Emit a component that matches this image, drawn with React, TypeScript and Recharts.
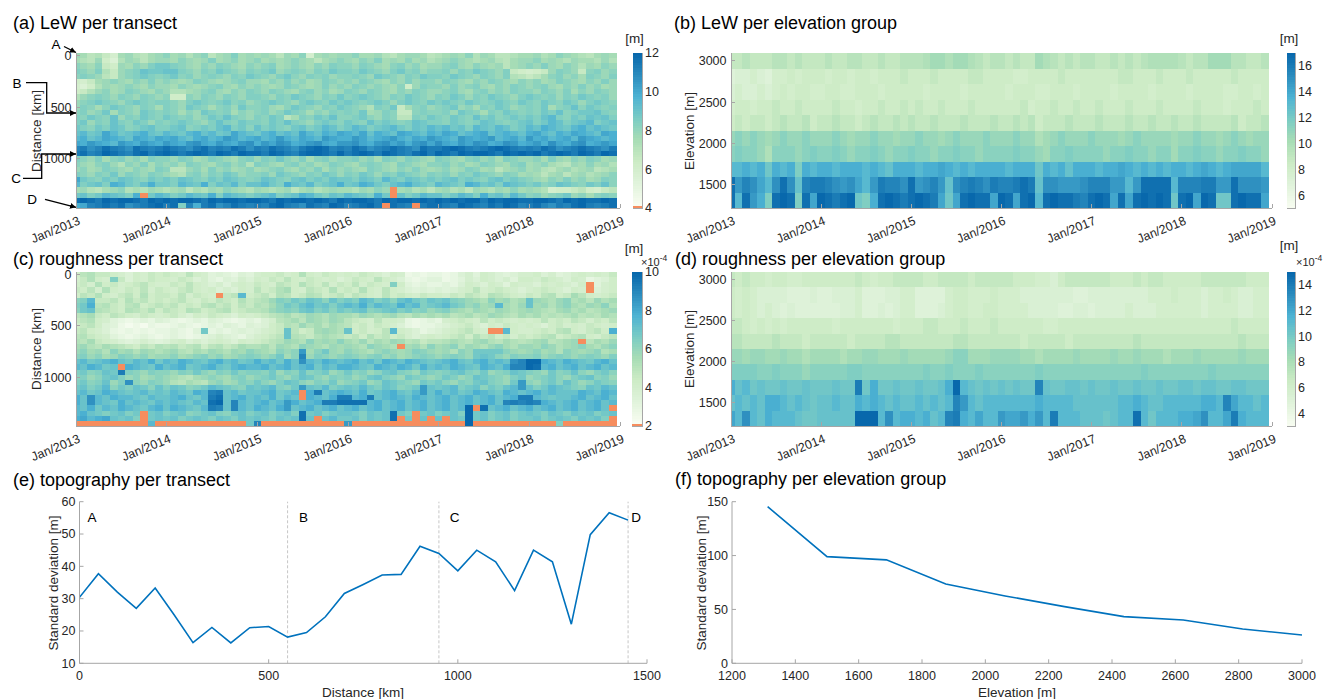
import React from 'react';
import {
  BarChart,
  Bar,
  Cell,
  XAxis,
  YAxis,
  LineChart,
  Line,
  ReferenceLine,
  ReferenceArea,
} from 'recharts';

const FONT = '"Liberation Sans", Arial, Helvetica, sans-serif';
const INK = '#262626';
const FRAME = '#a6a6a6';
const TICK_PX = 12.5;
const LINE_BLUE = '#0072bd';

// ---------------------------------------------------------------------------
// Axes and categories
// ---------------------------------------------------------------------------

// Month index 0 = Jan 2013; every heatmap cell is centred on its month.
const MONTH_INDEX = Array.from({ length: 72 }, (_, i) => i);
const MONTH_TICKS = [0, 12, 24, 36, 48, 60, 72];
const MONTH_TICK_LABELS = ['Jan/2013', 'Jan/2014', 'Jan/2015', 'Jan/2016', 'Jan/2017', 'Jan/2018', 'Jan/2019'];

const TRANSECT_KM = [
  0, 50, 100, 150, 200, 250, 300, 350, 400, 450, 500, 550, 600, 650, 700,
  750, 800, 850, 900, 950, 1000, 1050, 1100, 1150, 1200, 1250, 1300, 1350, 1400, 1450,
];
const ELEVATION_M = [1312.5, 1500, 1687.5, 1875, 2062.5, 2250, 2437.5, 2625, 2812.5, 3000];

const DISTANCE_TICKS = [0, 500, 1000];
const ELEVATION_TICKS = [1500, 2000, 2500, 3000];

// Colour ranges of the four heatmaps (roughness in units of 1e-4 m)
const LEW_TRANSECT_RANGE: [number, number] = [4, 12];
const LEW_ELEVATION_RANGE: [number, number] = [5, 17];
const ROUGH_TRANSECT_RANGE: [number, number] = [2, 10];
const ROUGH_ELEVATION_RANGE: [number, number] = [3, 15];

const LEW_TRANSECT_TICKS = [4, 6, 8, 10, 12];
const LEW_ELEVATION_TICKS = [6, 8, 10, 12, 14, 16];
const ROUGH_TRANSECT_TICKS = [2, 4, 6, 8, 10];
const ROUGH_ELEVATION_TICKS = [4, 6, 8, 10, 12, 14];

// ---------------------------------------------------------------------------
// Monthly values. One string per row, one letter per month (Jan 2013 .. Dec 2018,
// grouped by year). 'a'..'z' run linearly from the low to the high end of the
// panel's colour range; '#' marks a month with no value (drawn in the under-range colour).
// ---------------------------------------------------------------------------

// LeW per transect, rows 0 km .. 1450 km
const LEW_TRANSECT_CODES = [
  'mljkiglmkjlm nlmkmnjlmolm lmljmlnglmlm mnllmkjlmmlj klmlnkmljjkl lmklnmlkjlml',
  'lkjmhfkmljlm mlnmlmolmnlm nlmlmnmljlmn mlnmolmlnlmk lmnmlklmkjlm mnlmlkmllkmk',
  'nmlnihmlnmop ponmlnmonmln mnolmnmlnmon nmonmlnomnlm mnomlnmlmjlm nmomlnmkmlnm',
  'onmokimnoqpp qqonmonponmo nopmnonmonpo onponmopnomn nomonponmoih ghimonminomn',
  'nonmjimnopon opnomnonmonp onmopnmonomn nonmponmonpo onponmonmokj ijlnomnlonmo',
  'hgilmnmlnmom nmlmonmlmnom mlnmomnlmonm nmonmlnmomnn monmlnmonmln mnlmonmlnmom',
  'gfhkmlmnmlnm mlnmlmnomlnm nmlmonmlmomn monmnmlnhmon nmomnomlnmon mnomlnmomnlm',
  'hikmnlmonmln mkklmnomlnmo nmonmlnomnlm onmonmlnmonm mnomlnomnmon nmonmolnmonm',
  'kmnonmonmonm nhhnmonmonmo onmonponmonp noponmonponm onpomonponmo ponomonponom',
  'mnoponmopono onmoponopnom noponmoponpo ponopomoponp oponponoponp onponpomopon',
  'monlnponmonl onmponlnompn nomlnponmonp onmkonpilnom nopmnlonpomn onplnoqnpono',
  'nomnplonmpon onlnmponolnm nomnponlnmon onplmoniinon nomponlonpon onpoqnoppqon',
  'onponqmonpon ponomnpoqonm onpojlonpoqn nopnmonjjonp onponqopnopo poqronpoqpqo',
  'opmonqonpomo noponmoqonpo onpoqonmopon ponqoponoqpo onponoqponop qoprqopqropq',
  'ponpoqpnopqo opqnopoqropn qoponpqoprqo prqopqrpoqpr qrpqorqprqop rqsrqprsqrqp',
  'qrpqtrpqrsqp rqprsqrpqtrq prsqrqtrqsrt srtqsrqtsrqs rtsqrstqrsrq strqsrtsrqts',
  'rsqrtsrqtsrt strqstrsutrs trsusrtsruts sutrstusrtsu tsrutsturstr ustrstrutsrs',
  'tsutsrutsuts utsuvtsutsuv sutvustuvtsu uvtsuvtusuvt vtsutvustvus tusvtsuvstut',
  'wxvwyxwvyxwx yxwvxywxwyxv xwyxwvxyzywx wyxvwxyxwvyx xyzyxwxyzyxw xwyxvwxyxwvx',
  'xywxzyxwyzxy zyxyzyxzyxzy yxzyxwyzzyxz xyzyxzyxwyzx zyxzyzzyxzyz yzxyzyxzyxzy',
  'onmolnomnlon nmonlmonmlno monpnmolnomn nomnlonmonml onmlnomnlonm mnlomlnmonlm',
  'nmlnomknmoln mnlonmlnomnk onmlnomnlmon mlnonmlonmln nomnlmonmlno lmnlkjmlnlmk',
  'mnlmonmlnmlo njjmnlomnlmn lmnomlnmolnm nmlonmlnmoml mnlmonlmjlmn lmkjlmklmjkl',
  'onmonpmonmon mlknomonpomn nomponmonpom onpomonponmo nomonponmonl mljlmjlmklmn',
  'tponpoqponpo poqponpoqpon oqponpqopoqp poqporpoqpop opqoponpqopo nmlnmomnlmon',
  'ropqosrpoqsp porqpsoqproq qrposqpropqs pqsrpoqrsqpo rqposrpqorqp opnoqponpoqn',
  'lmkjlmnklkml klmjlkmlnmlk mlklmjlmklml lkmlnm#lmklj lmkljmlkmlnl mlkghhijhgij',
  'pqoprqpos#pr qoprqpsorqpo pqropqsrpoqp rqposp#qoprq qoprqospqorp nomnopmnlnon',
  'yzyxzyzzyxzy zyzzyxzyzzyz zyxzyzzyzyxz yzzyxzyzzyzy zyzyzzxzyzzy yzzyxzyzyyzy',
  'stwxyxyvwxyz xyowsxyvwyxw xwyzxwvyxwzy wxyzx#yxw#xy yxwzyxwyxzyw xywvxwyzxwxy',
];

// LeW per elevation group, rows 1312.5 m (bottom) .. 3000 m (top)
const LEW_ELEVATION_CODES = [
  'yryusoyzyoyt zyxyzposyzyx yzyxtptyzyyt zytyzryzyyxw yzytytyzyzyp yztzyppyzyyt',
  'yuwvtrvyvqwx xwvuvtruxwwv yuvwuqvwxwvx wwxyxqvvuuuv wwwuuruyyyyr wwwxxuuyvvvu',
  'rrsrspsrsosr ssrsssrsrqss srsstsrsrsss srssspsrsqss srsstsrsrsrs srstsrsttttr',
  'nonnmknnnmno nnonmnnonmnn onnmnnonnmnn nnonnmlnnonn nnmnnonnmnnl nnonnmnnonnm',
  'mnmnmlmnmmnm mmnmlmmnmmlm mnmmlmnmmmnm mmnmmklmnmmm nmmmlmnmmmml mmnmmlmnmlmm',
  'hihiihijiijh iijiihijiiji jiijiiijiiij iijijhiiijii ijiiijiijiij iijiiiijhiij',
  'ghhghhihhihh hhihhghhihhi hihhihhhihhh hhhighhihhih hihhhihhhihh hhihhhghhhih',
  'fgffgfghghhg ghhgghhhghhh hhghhhhghhhh hghhhgghhhgh hhhghhhhghhh hghhhhgghhgh',
  'effgfegghghh hghhghhghhhi hhhihhhhiihh hhgghhhhihhh hhhhiihhhihh hihhhhhihhhh',
  'iijiiijjijii ijiijjiijiij jjkllkllkjij jijiilkjijij jiijijijkkkk jijjllljjiij',
];

// Roughness per transect (1e-4 m), rows 0 km .. 1450 km
const ROUGH_TRANSECT_CODES = [
  'hjkiihgfhgih ihgjhgefedfe ghhighkhgihg hgihgfhgcdcd dcdfgehgfefg ghfgefghghgi',
  'gikhgoifhgih hgihfgedfegf hgihjhgihghf gihgjhgfdcde ecdegfhgfgeh hgihgfhgdefh',
  'higkhighijhg gihjhgfgeghg ihgjihkihjgi hjgihgoheded dedfhgfhgehg gfhghgfh#egh',
  'ihjgkhgihjgi hgijhghfgfhg jhiklhgjihkh ihkhgjhgfefe fefghjghihgf ghihgfhg#fgh',
  'hjikhgijhkhi ihjgihg#ijrh ijhkjhikjhij hjihgjhihgih hgihjihkjihg ihjkhiljhghi',
  'noriijhkijhi hijhgihjihki jkmonpoqpnqo porqopnqrpoq pqonmlknlmkl qmlkmnkljmkl',
  'opsjkihjkhij ijhihjkijhji kjlnpoqrpqoq rqsprqpsqrop qrpomnlmrlkm qlmkmnlkmlnk',
  'npqkjihkjikh jihkjhijkhij jkmnonpqopnp opqnopqopnom nomlkmlkmlkl mlkjlmkljklm',
  'jklihjihgihg higfhgihgfhg hijkljkmlkml lkmlklmkjlkl kljkljkmlkjl kljkjkljkjlk',
  'ijkhgedcdedf edcdedfedcde dfgjkljmlkml jihgjhhgdcde dghihgjhihgh ghjhihjigihj',
  'hijhfecbcbdc cdedcdedfedf efhikjmkljlk jhigihgfdcdd efghigfhgihg hgfhighgihgh',
  'ijhgfdcdcdcd dedcepdedefe fghiqjhilmlk qhighjrhgfde fghijhg##rhg ghihjkhgijhs',
  'jkihgedcdedc dedcdefgfedf ghijqkjiklkj ijhkijhigfgh ghijhkijhigi hijkhijkhgij',
  'kjlihgfefgfe fghfgfghgfhg hijkmlknlmln lkmjlkmljkij jklkjlmkjlkj klmjklm#jlkm',
  'lmkjlkjihjik jkijkhjkijlk kljmlknmlkml mlknmlk#lmkn lmnkmlkmnlkm mlnmklmnlkmn',
  'mnlmknlmkmlk lmkjlkmlkmln mlknmnulnpml nmlkmnmlmonm lmknmppppnml mnlmknmlmnkl',
  'nomnlmonmnlm mnlmnomnlmno nmnplnwmonmn onmnomnlmnon mnonmpqpnmon nomnonmnonmo',
  'qrpqrsqprqsp rqsrqprsqrpq sqrpsqvrqsrq rsqrpsrqsrqp qrsqprsqrqvw zzsrqsrqprsq',
  'rqsrpq#srqps qrspqrsqprsr rsqrsqrsprqs srqpsrqsrpsq rqsrqpsrqsww zyrsqrsqrsqr',
  'opnoqpxonmon nmonpnmonpno onpmonqnopmn pnomnpqonmpo nopqonpmnoqp onmpnoqnmopn',
  'nomnpqomnlmn mlkjlmnmlnom nopnmoqpnmon omnpqonmponm npomnqponmop mnopnmopqnom',
  'opnoqmovnmon mkjlkjmnlmon pnmoqpnmonpm nopmnqponmpo pnmonpqonmpu nmopnqomnpon',
  'pqoprnpoqpnq oqpnoprqponq pqronpuqprop qprpoqpnopuq pqropqnpoqru qoprqponqprq',
  'qrpqsrqpqrpq prqpsrwxqrpq qrspqr#sxqrs rqspqrsqpruq sqrpqsrqpsrq rsqrqqqsrqsr',
  'sqvrqsrrqprq qrsqprxyqrsq rqsprq#srqsx xrsxqrsrqsrq rsqrsqrsqrsx xrqpqqrsqrsq',
  'sqvrqpsqrqpr qrqprqyzqwrq rsqrusqrsxxy yyyrsqrsqrsq rsqrsqrsqwxw xwsrqrsqrsqr',
  'rqsprqsrqprs qsrqprxwqwrq srqsuqrsqrsq rsqrsqrsqrsq rsqrz#yqrsqr sqrsqrsqrsq#',
  'rsqpopqop#pq opqnopqonpqo pqopqoypqopq qpoqpqypo#pq opqozpqopqop qpoqpoqpqopq',
  'strstqpqo#pq pqopqpoqpoqp qpoqpqyq#qrp pqoqpqy#p#q# q#qpzpqopqop pqopqpoqpqo#',
  '##########r# ###########p w########### u########### ####z####### ####o#######',
];

// Roughness per elevation group (1e-4 m), rows 1312.5 m (bottom) .. 3000 m (top)
const ROUGH_ELEVATION_CODES = [
  'trvrqsrrrqpp qqqqqzzzrvrs srsqrwxsrtrr uttusurxrrrq qqpqrryrprrr sstvrrtxsrrr',
  'qrqrqssrqrqp qqrqqsrsrqrq qrqrqrwurqrr rrrrrsrrrrqq qqqqrrsrqqrr rrrssrwtrrqr',
  'sqrpqppqppqp ppqppxpsppqp pqppqszrqpqp qpqppwqppqqp qppqppqppqpp qqpqqppqqppp',
  'oooonnonnnmn nnnnoonnnnnn nnonnonnnonn nnnnnonnnnnn nnnnnnnonnnn nnnnonnnnnnn',
  'mmlmmllmllkl lllkllmmlllm lllllmnnlllm mmmllkllllml lllmllmlllkl llmlllllmlll',
  'jjiiiijiiihi iiiihiiiijji iiiiiijjiiii iiihiiiiihii iiiiiijiiiii iiiiiiiijiii',
  'iihghghghhhh hhghhhhhhhgh hhiihhhihhhi hhhhhhgghhhh hhhhhhhhhhhh hhhhhhhihhhh',
  'hghgfgfefeee eeeffgeefefg geeefghhgghh ggggffffeeff effffgfffggg gggfggggffgg',
  'hghgffffeeef eefffgeeeffg geeeeghhgggh gggfffffffee ffffffffgggh gggfgghgffgg',
  'ihihhghhgghh hhhhhihghhii iihhiiiihiii iihhhggfhiii iiihhhihiihh hhhiiiiiihhh',
];

// Standard deviation of topography
const TOPO_SD_TRANSECT = [
  30.4, 37.7, 32.0, 27.0, 33.3, 25.0, 16.4, 21.1, 16.3, 21.0, 21.4, 18.1, 19.5, 24.4, 31.6,
  34.4, 37.3, 37.5, 46.2, 44.0, 38.6, 45.0, 41.4, 32.5, 45.0, 41.4, 22.1, 49.8, 56.6, 54.3,
];
const TOPO_SD_ELEVATION = [145.4, 99.0, 96.0, 73.6, 62.5, 52.6, 43.3, 40.2, 31.8, 26.3];

// Section boundaries B, C, D along the transect (A is the origin)
const SECTION_KM = [550, 950, 1450];

// ---------------------------------------------------------------------------
// Colour map (GnBu, 64 entries; transect maps reserve the lowest entry for orange)
// ---------------------------------------------------------------------------

const GNBU_STOPS = ['#f7fcf0', '#e0f3db', '#ccebc5', '#a8ddb5', '#7bccc4', '#4eb3d3', '#2b8cbe', '#0868ac'];
const UNDER_RANGE = '#f68d5e';
const LEVELS = 'abcdefghijklmnopqrstuvwxyz';

function hexRgb(h: string): number[] {
  return [1, 3, 5].map((i) => parseInt(h.slice(i, i + 2), 16));
}

function gnbu(t: number): string {
  const p = Math.max(0, Math.min(1, t)) * (GNBU_STOPS.length - 1);
  const i = Math.min(Math.floor(p), GNBU_STOPS.length - 2);
  const f = p - i;
  const a = hexRgb(GNBU_STOPS[i]);
  const b = hexRgb(GNBU_STOPS[i + 1]);
  return `rgb(${a.map((v, k) => Math.round(v + (b[k] - v) * f)).join(',')})`;
}

function colormap(n: number, under?: string): string[] {
  const out: string[] = [];
  for (let i = 0; i < n; i++) {
    if (under && i === 0) out.push(under);
    else out.push(gnbu(under ? (i - 1) / (n - 2) : i / (n - 1)));
  }
  return out;
}

const CMAP_TRANSECT = colormap(64, UNDER_RANGE);
const CMAP_ELEVATION = colormap(64);

function decodeRow(code: string, range: [number, number]): number[] {
  const [lo, hi] = range;
  return code
    .replace(/\s+/g, '')
    .split('')
    .map((ch) => (ch === '#' ? 0 : lo + (LEVELS.indexOf(ch) / (LEVELS.length - 1)) * (hi - lo)));
}

function colorOf(v: number, range: [number, number], cmap: string[]): string {
  const n = cmap.length;
  const i = Math.floor(((v - range[0]) / (range[1] - range[0])) * n);
  return cmap[Math.max(0, Math.min(n - 1, i))];
}

const blank = () => '';

// ---------------------------------------------------------------------------
// Components
// ---------------------------------------------------------------------------

type Margin = { top: number; right: number; bottom: number; left: number };

function MonthTick(props: any) {
  const { x, y, payload } = props;
  const label = MONTH_TICK_LABELS[MONTH_TICKS.indexOf(payload.value)];
  const ax = x + 5;
  return (
    <text x={ax} y={y} textAnchor="end" fontSize={TICK_PX} fill={INK} transform={`rotate(-22 ${ax} ${y})`}>
      {label}
    </text>
  );
}

type HeatmapProps = {
  left: number;
  top: number;
  width: number;
  height: number;
  margin: Margin;
  codes: string[];
  rowCenters: number[];
  range: [number, number];
  cmap: string[];
  yTicks: number[];
  reversed?: boolean;
};

function Heatmap(p: HeatmapProps) {
  const values = p.codes.map((c) => decodeRow(c, p.range));
  const step = p.rowCenters[1] - p.rowCenters[0];
  const yDomain: [number, number] = [
    p.rowCenters[0] - step / 2,
    p.rowCenters[p.rowCenters.length - 1] + step / 2,
  ];
  const data = MONTH_INDEX.map((m) => {
    const d: Record<string, number> = { m, base: yDomain[0] };
    values.forEach((_, r) => {
      d['r' + r] = step;
    });
    return d;
  });
  return (
    <div style={{ position: 'absolute', left: p.left, top: p.top, shapeRendering: 'crispEdges' }}>
      <BarChart width={p.width} height={p.height} data={data} margin={p.margin} barCategoryGap={0} barGap={0}>
        <Bar dataKey="base" stackId="s" fill="none" isAnimationActive={false} />
        {values.map((row, r) => (
          <Bar key={r} dataKey={'r' + r} stackId="s" isAnimationActive={false}>
            {row.map((v, i) => (
              <Cell key={i} fill={colorOf(v, p.range, p.cmap)} />
            ))}
          </Bar>
        ))}
        <XAxis
          type="number"
          dataKey="m"
          domain={[0, 72]}
          ticks={MONTH_TICKS}
          interval={0}
          allowDataOverflow
          height={30}
          tickSize={-4}
          tickMargin={20}
          stroke={FRAME}
          tick={<MonthTick />}
        />
        <XAxis
          xAxisId="top"
          orientation="top"
          type="number"
          dataKey="m"
          domain={[0, 72]}
          ticks={MONTH_TICKS}
          interval={0}
          allowDataOverflow
          height={0}
          tickSize={-4}
          tickFormatter={blank}
          stroke={FRAME}
        />
        <YAxis
          type="number"
          domain={yDomain}
          reversed={p.reversed}
          ticks={p.yTicks}
          interval={0}
          allowDataOverflow
          width={45}
          tickSize={-4}
          tickMargin={8.5}
          stroke={FRAME}
          tick={{ fontSize: TICK_PX, fill: INK }}
        />
        <YAxis
          yAxisId="right"
          orientation="right"
          type="number"
          domain={yDomain}
          reversed={p.reversed}
          ticks={p.yTicks}
          interval={0}
          allowDataOverflow
          width={0}
          tickSize={-4}
          tickFormatter={blank}
          stroke={FRAME}
        />
      </BarChart>
    </div>
  );
}

type ColorbarProps = {
  left: number;
  top: number;
  width: number;
  height: number;
  margin: Margin;
  range: [number, number];
  ticks: number[];
  cmap: string[];
};

function Colorbar(p: ColorbarProps) {
  const step = (p.range[1] - p.range[0]) / p.cmap.length;
  const datum: Record<string, number | string> = { k: 'cb', base: p.range[0] };
  p.cmap.forEach((_, i) => {
    datum['c' + i] = step;
  });
  return (
    <div style={{ position: 'absolute', left: p.left, top: p.top, shapeRendering: 'crispEdges' }}>
      <BarChart width={p.width} height={p.height} data={[datum]} margin={p.margin} barCategoryGap={0} barGap={0}>
        <XAxis dataKey="k" hide height={0} />
        <YAxis
          orientation="right"
          type="number"
          domain={p.range}
          ticks={p.ticks}
          interval={0}
          allowDataOverflow
          width={30}
          tickSize={0}
          tickMargin={3}
          axisLine={false}
          tickLine={false}
          tick={{ fontSize: TICK_PX, fill: INK }}
        />
        <Bar dataKey="base" stackId="c" fill="none" isAnimationActive={false} />
        {p.cmap.map((c, i) => (
          <Bar key={i} dataKey={'c' + i} stackId="c" fill={c} isAnimationActive={false} />
        ))}
        <ReferenceArea y1={p.range[0]} y2={p.range[1]} fill="none" stroke={FRAME} strokeWidth={1} />
      </BarChart>
    </div>
  );
}

type ProfileProps = {
  left: number;
  top: number;
  width: number;
  height: number;
  margin: Margin;
  xs: number[];
  ys: number[];
  xDomain: [number, number];
  xTicks: number[];
  yDomain: [number, number];
  yTicks: number[];
  marks?: number[];
};

function Profile(p: ProfileProps) {
  const data = p.xs.map((x, i) => ({ x, y: p.ys[i] }));
  return (
    <div style={{ position: 'absolute', left: p.left, top: p.top }}>
      <LineChart width={p.width} height={p.height} data={data} margin={p.margin}>
        <XAxis
          type="number"
          dataKey="x"
          domain={p.xDomain}
          ticks={p.xTicks}
          interval={0}
          allowDataOverflow
          height={25}
          tickSize={-4}
          tickMargin={12}
          stroke={FRAME}
          tick={{ fontSize: TICK_PX, fill: INK }}
        />
        <XAxis
          xAxisId="top"
          orientation="top"
          type="number"
          dataKey="x"
          domain={p.xDomain}
          ticks={p.xTicks}
          interval={0}
          allowDataOverflow
          height={0}
          tickSize={-4}
          tickFormatter={blank}
          stroke={FRAME}
        />
        <YAxis
          type="number"
          domain={p.yDomain}
          ticks={p.yTicks}
          interval={0}
          allowDataOverflow
          width={40}
          tickSize={-4}
          tickMargin={8}
          stroke={FRAME}
          tick={{ fontSize: TICK_PX, fill: INK }}
        />
        <YAxis
          yAxisId="right"
          orientation="right"
          type="number"
          domain={p.yDomain}
          ticks={p.yTicks}
          interval={0}
          allowDataOverflow
          width={0}
          tickSize={-4}
          tickFormatter={blank}
          stroke={FRAME}
        />
        {(p.marks || []).map((k) => (
          <ReferenceLine key={k} x={k} stroke="#c6c6c6" strokeDasharray="3 2" />
        ))}
        <Line
          type="linear"
          dataKey="y"
          stroke={LINE_BLUE}
          strokeWidth={1.6}
          dot={false}
          isAnimationActive={false}
        />
      </LineChart>
    </div>
  );
}

function Labels() {
  const title = { fontSize: 18, fill: '#000' };
  const axisTitle = { fontSize: 13.5, fill: INK, textAnchor: 'middle' as const, dominantBaseline: 'central' as const };
  const unit = { fontSize: 13.5, fill: INK, textAnchor: 'middle' as const };
  const letter = { fontSize: 13.5, fill: '#000', textAnchor: 'middle' as const };
  const pen = { stroke: '#000', strokeWidth: 1.3, fill: 'none', markerEnd: 'url(#arrowhead)' };
  return (
    <svg
      width={1327}
      height={699}
      style={{ position: 'absolute', left: 0, top: 0, pointerEvents: 'none' }}
      fontFamily={FONT}
    >
      <defs>
        <marker
          id="arrowhead"
          viewBox="0 0 10 10"
          refX="10"
          refY="5"
          markerWidth="6"
          markerHeight="6"
          orient="auto"
          markerUnits="userSpaceOnUse"
        >
          <path d="M0,0 L10,5 L0,10 z" fill="#000" />
        </marker>
      </defs>

      <text x={13} y={28.5} {...title}>(a) LeW per transect</text>
      <text x={674} y={28.5} {...title}>(b) LeW per elevation group</text>
      <text x={13} y={265} {...title}>(c) roughness per transect</text>
      <text x={675} y={265} {...title}>(d) roughness per elevation group</text>
      <text x={13} y={486} {...title}>(e) topography per transect</text>
      <text x={675} y={485} {...title}>(f) topography per elevation group</text>

      <text transform="translate(36 131) rotate(-90)" {...axisTitle}>Distance [km]</text>
      <text transform="translate(689 131) rotate(-90)" {...axisTitle}>Elevation [m]</text>
      <text transform="translate(36 349) rotate(-90)" {...axisTitle}>Distance [km]</text>
      <text transform="translate(689 349) rotate(-90)" {...axisTitle}>Elevation [m]</text>
      <text transform="translate(53 583) rotate(-90)" {...axisTitle}>Standard deviation [m]</text>
      <text transform="translate(701 583) rotate(-90)" {...axisTitle}>Standard deviation [m]</text>
      <text x={363} y={692} {...axisTitle}>Distance [km]</text>
      <text x={1017} y={692} {...axisTitle}>Elevation [m]</text>

      <text x={634.5} y={43} {...unit}>[m]</text>
      <text x={1289} y={43} {...unit}>[m]</text>
      <text x={634} y={252.5} {...unit}>[m]</text>
      <text x={1289} y={250} {...unit}>[m]</text>
      <text x={641} y={265.5} fontSize={11} fill={INK}>
        ×10<tspan dy={-5} fontSize={8.5}>-4</tspan>
      </text>
      <text x={1296} y={265.5} fontSize={11} fill={INK}>
        ×10<tspan dy={-5} fontSize={8.5}>-4</tspan>
      </text>

      {/* section markers A-D beside the transect axis of panel (a) */}
      <text x={56} y={48.5} {...letter}>A</text>
      <text x={17} y={87.5} {...letter}>B</text>
      <text x={16} y={183} {...letter}>C</text>
      <text x={32} y={204} {...letter}>D</text>
      <line x1={64} y1={46.5} x2={76} y2={52.5} {...pen} />
      <polyline points="26,82.7 46.7,82.7 46.7,113 76,113" {...pen} />
      <polyline points="23,178.3 41.7,178.3 41.7,154 76,154" {...pen} />
      <line x1={45} y1={199.3} x2={76} y2={207.3} {...pen} />

      {/* section letters in panel (e) */}
      <text x={92} y={521.5} {...letter}>A</text>
      <text x={303.5} y={521.5} {...letter}>B</text>
      <text x={454.5} y={521.5} {...letter}>C</text>
      <text x={636} y={521.5} {...letter}>D</text>
    </svg>
  );
}

export default function App() {
  return (
    <div
      style={{
        position: 'absolute',
        left: 0,
        top: 0,
        width: 1327,
        height: 699,
        background: '#fff',
        fontFamily: FONT,
        overflow: 'hidden',
      }}
    >
      <Heatmap
        left={0}
        top={0}
        width={650}
        height={245}
        margin={{ top: 53, right: 30, bottom: 7, left: 31 }}
        codes={LEW_TRANSECT_CODES}
        rowCenters={TRANSECT_KM}
        range={LEW_TRANSECT_RANGE}
        cmap={CMAP_TRANSECT}
        yTicks={DISTANCE_TICKS}
        reversed
      />
      <Colorbar
        left={620}
        top={40}
        width={60}
        height={180}
        margin={{ top: 13, right: 8, bottom: 12, left: 13 }}
        range={LEW_TRANSECT_RANGE}
        ticks={LEW_TRANSECT_TICKS}
        cmap={CMAP_TRANSECT}
      />
      <Heatmap
        left={660}
        top={0}
        width={640}
        height={245}
        margin={{ top: 53, right: 28, bottom: 7, left: 26 }}
        codes={LEW_ELEVATION_CODES}
        rowCenters={ELEVATION_M}
        range={LEW_ELEVATION_RANGE}
        cmap={CMAP_ELEVATION}
        yTicks={ELEVATION_TICKS}
      />
      <Colorbar
        left={1275}
        top={40}
        width={52}
        height={180}
        margin={{ top: 13, right: 2, bottom: 12, left: 12 }}
        range={LEW_ELEVATION_RANGE}
        ticks={LEW_ELEVATION_TICKS}
        cmap={CMAP_ELEVATION}
      />
      <Heatmap
        left={0}
        top={230}
        width={650}
        height={245}
        margin={{ top: 42, right: 30, bottom: 19, left: 31 }}
        codes={ROUGH_TRANSECT_CODES}
        rowCenters={TRANSECT_KM}
        range={ROUGH_TRANSECT_RANGE}
        cmap={CMAP_TRANSECT}
        yTicks={DISTANCE_TICKS}
        reversed
      />
      <Colorbar
        left={620}
        top={260}
        width={60}
        height={180}
        margin={{ top: 12, right: 8, bottom: 14, left: 12 }}
        range={ROUGH_TRANSECT_RANGE}
        ticks={ROUGH_TRANSECT_TICKS}
        cmap={CMAP_TRANSECT}
      />
      <Heatmap
        left={660}
        top={230}
        width={640}
        height={245}
        margin={{ top: 42, right: 28, bottom: 19, left: 26 }}
        codes={ROUGH_ELEVATION_CODES}
        rowCenters={ELEVATION_M}
        range={ROUGH_ELEVATION_RANGE}
        cmap={CMAP_ELEVATION}
        yTicks={ELEVATION_TICKS}
      />
      <Colorbar
        left={1275}
        top={260}
        width={52}
        height={180}
        margin={{ top: 12, right: 2, bottom: 14, left: 12 }}
        range={ROUGH_ELEVATION_RANGE}
        ticks={ROUGH_ELEVATION_TICKS}
        cmap={CMAP_ELEVATION}
      />
      <Profile
        left={0}
        top={470}
        width={665}
        height={229}
        margin={{ top: 31.7, right: 18, bottom: 10.7, left: 39.5 }}
        xs={TRANSECT_KM}
        ys={TOPO_SD_TRANSECT}
        xDomain={[0, 1500]}
        xTicks={[0, 500, 1000, 1500]}
        yDomain={[10, 60]}
        yTicks={[10, 20, 30, 40, 50, 60]}
        marks={SECTION_KM}
      />
      <Profile
        left={670}
        top={470}
        width={650}
        height={229}
        margin={{ top: 31.7, right: 18, bottom: 10.7, left: 22 }}
        xs={ELEVATION_M}
        ys={TOPO_SD_ELEVATION}
        xDomain={[1200, 3000]}
        xTicks={[1200, 1400, 1600, 1800, 2000, 2200, 2400, 2600, 2800, 3000]}
        yDomain={[0, 150]}
        yTicks={[0, 50, 100, 150]}
      />
      <Labels />
    </div>
  );
}
